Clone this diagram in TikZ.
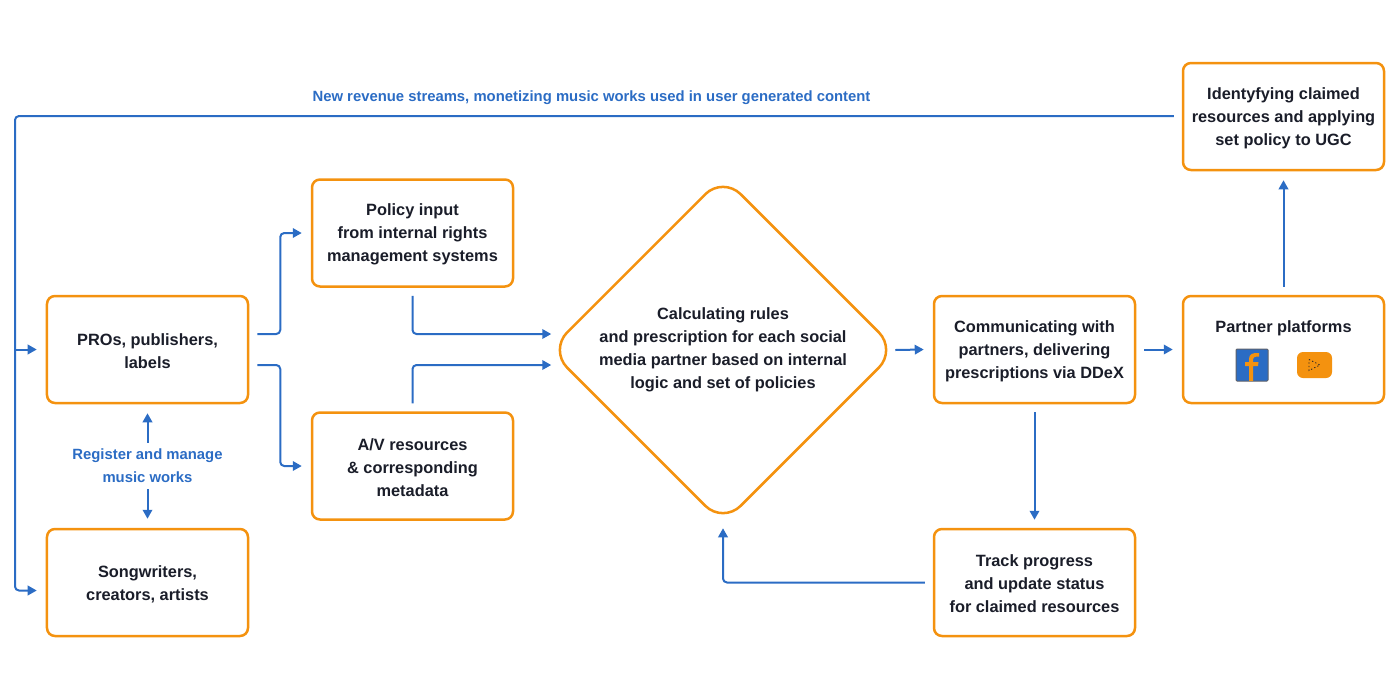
\documentclass[tikz,border=0pt]{standalone}
\usepackage{fontspec}
\setmainfont{Liberation Sans}
\usetikzlibrary{arrows.meta,shapes.geometric}
\definecolor{boxorange}{HTML}{F4920F}
\definecolor{linkblue}{HTML}{2B6CC4}
\definecolor{textdark}{HTML}{1A1D29}
\newcommand{\boxlift}{\rule{0pt}{8.5pt}}
\tikzset{
	boxnode/.style={draw=boxorange, line width=0.5mm, rounded corners=1.6mm, fill=white, minimum width=40.2mm, minimum height=21.4mm, align=center, text=textdark, font=\bfseries\fontsize{9.3}{13.1}\selectfont, inner sep=0pt},
	link/.style={draw=linkblue, line width=0.4mm, rounded corners=0.8mm, -{Triangle[length=1.8mm,width=1.9mm]}},
	linklabel/.style={text=linkblue, align=center, font=\bfseries\fontsize{8.45}{13.1}\selectfont, inner sep=0pt}
}
\begin{document}
\begin{tikzpicture}[x=0.2mm,y=-0.2mm]
	\useasboundingbox (0,0) rectangle (1400,699);
	%%%%% BOXES %%%%%
	\node[boxnode] (pro) at (147.5,349.5) {\boxlift PROs, publishers,\\labels};
	\node[boxnode] (song) at (147.5,582.5) {\boxlift Songwriters,\\creators, artists};
	\node[boxnode] (policy) at (412.5,233) {\boxlift Policy input\\from internal rights\\management systems};
	\node[boxnode] (media) at (412.5,466) {\boxlift A/V resources\\\& corresponding\\metadata};
	\node[boxnode] (comm) at (1034.5,349.5) {\boxlift Communicating with\\partners, delivering\\prescriptions via DDeX};
	\node[boxnode] (track) at (1034.5,582.5) {\boxlift Track progress\\and update status\\for claimed resources};
	\node[boxnode] (partner) at (1283.5,349.5) {};
	\node[boxnode] (claim) at (1283.5,116.5) {\boxlift Identyfying claimed\\resources and applying\\set policy to UGC};
	\node[boxnode, shape=diamond, minimum width=69.6mm, minimum height=69.6mm, rounded corners=5mm] (logic) at (723,350) {\rule{0pt}{6.5pt}Calculating rules\\and prescription for each social\\media partner based on internal\\logic and set of policies};
	\node[text=textdark, font=\bfseries\fontsize{9.3}{13.1}\selectfont, inner sep=0pt] (partnertext) at (1283.5,328) {Partner platforms};
	%%%%% ICONS %%%%%
	\node[draw=textdark!70, line width=0.2mm, fill=linkblue, rounded corners=0.2mm, minimum size=6.4mm, inner sep=0pt] (fbicon) at (1252,365) {};
	\fill[boxorange] (1253,381) -- (1253,366) -- (1258,366) -- (1258.5,362) -- (1253,362) -- (1253,359) .. controls (1253,357) and (1255,356.5) .. (1259,356.5) -- (1259,353) .. controls (1253,352.5) and (1249,354) .. (1249,359) -- (1249,362) -- (1245,362) -- (1245,366) -- (1249,366) -- (1249,381) -- cycle;
	\node[fill=boxorange, rounded corners=1.2mm, minimum width=7mm, minimum height=5.2mm, inner sep=0pt] (yticon) at (1314.5,365) {};
	\draw[textdark, line width=0.15mm, dash pattern=on 0.25mm off 0.45mm] (1309,359.5) -- (1320,365) -- (1309,370.5) -- cycle;
	%%%%% LABELS %%%%%
	\node[linklabel] (revenue) at (591.5,97.5) {New revenue streams, monetizing music works used in user generated content};
	\node[linklabel, minimum height=9.2mm] (register) at (147.5,466) {Register and manage\\music works};
	%%%%% LINKS %%%%%
	\coordinate (rail) at (15,116);
	\coordinate (songin) at ([xshift=-1.8mm,yshift=-1.6mm]song.west);
	\draw[link] ([xshift=-1.6mm]claim.west |- rail) -- (rail) -- (rail |- songin) -- (songin);
	\draw[link, rounded corners=0pt] (rail |- pro.west) -- ([xshift=-1.8mm]pro.west);
	\draw[link] (register.north) -- ([yshift=-1.8mm]pro.south);
	\draw[link] (register.south) -- ([yshift=1.8mm]song.north);
	\draw[link] ([xshift=1.6mm,yshift=3.1mm]pro.east) -- ++(23,0) |- ([xshift=-1.8mm]policy.west);
	\draw[link] ([xshift=1.6mm,yshift=-3.1mm]pro.east) -- ++(23,0) |- ([xshift=-1.8mm]media.west);
	\draw[link] ([yshift=-1.6mm]policy.south) |- ([xshift=0.7mm,yshift=3.2mm]logic.west);
	\draw[link] ([yshift=1.6mm]media.north) |- ([xshift=0.7mm,yshift=-3mm]logic.west);
	\draw[link] ([xshift=-0.6mm]logic.east) -- ([xshift=-1.8mm]comm.west);
	\draw[link] ([xshift=1.6mm]comm.east) -- ([xshift=-1.8mm]partner.west);
	\draw[link] ([yshift=1.6mm]partner.north) -- ([yshift=-1.8mm]claim.south);
	\draw[link] ([yshift=-1.6mm]comm.south) -- ([yshift=1.6mm]track.north);
	\draw[link] ([xshift=-1.6mm]track.west) -| ([yshift=-0.6mm]logic.south);
\end{tikzpicture}
\end{document}
